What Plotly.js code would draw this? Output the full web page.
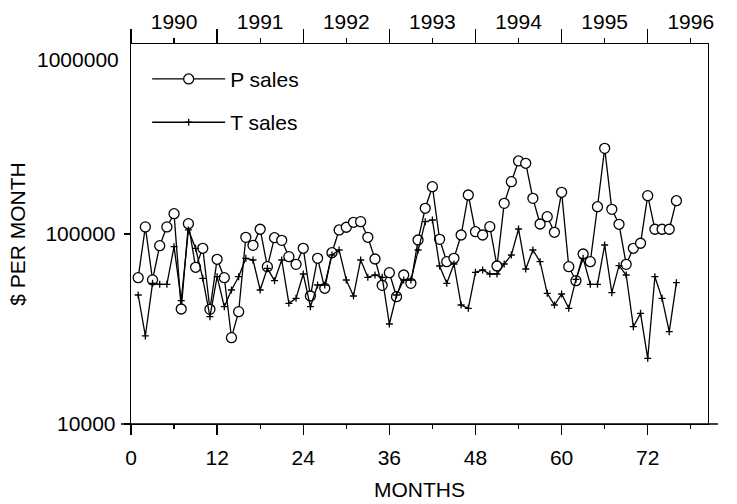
<!DOCTYPE html>
<html><head><meta charset="utf-8">
<script src="https://cdn.plot.ly/plotly-3.0.1.min.js"></script>
<style>html,body{margin:0;padding:0;background:#fff;}#chart{width:737px;height:504px;}</style>
</head><body><div id="chart"></div>
<script>
const months = [1,2,3,4,5,6,7,8,9,10,11,12,13,14,15,16,17,18,19,20,21,22,23,24,25,26,27,28,29,30,31,32,33,34,35,36,37,38,39,40,41,42,43,44,45,46,47,48,49,50,51,52,53,54,55,56,57,58,59,60,61,62,63,64,65,66,67,68,69,70,71,72,73,74,75,76];
const pSales = [58900,109000,57300,86800,109000,127900,40300,113300,66800,84100,40150,73600,58900,28460,39000,96070,87200,105900,67300,95600,92650,75950,69250,84100,47180,74500,51800,79700,105000,108500,115250,116100,96100,73880,53700,62560,46770,60840,55010,92990,136560,177400,93780,71500,74500,98800,160450,102800,98800,109250,67850,145050,188500,242300,235600,154100,112900,123350,102100,165800,67300,56780,78460,71500,139200,282500,134900,112500,69250,84100,89370,159100,105900,105900,105900,149700];
const tSales = [47750,29060,55010,54350,54350,85750,44570,105000,84100,58440,36700,59600,41430,50740,59600,74500,72990,50740,65990,56780,72990,43180,45870,61580,41430,53900,53900,77530,82380,57260,47180,72990,59170,60840,59170,33600,47750,57260,57260,82380,116100,118500,67850,55010,69520,42300,40640,62870,64650,61580,61580,69520,77530,106250,65440,82380,71500,48740,42300,48330,40640,57750,74500,54350,54350,87520,49100,68100,60840,32520,38240,22170,59600,45870,30610,55420];
const monthTicks = [0,12,24,36,48,60,72];
const yearLabels = ['1990','1991','1992','1993','1994','1995','1996'];
const yearMid = [6,18,30,42,54,66,78];
const yTickVals = [10000,100000];
const yTickText = ['10000','100000'];
const yTopLabel = '1000000';

const FONT = 'Liberation Sans, Arial, Helvetica, sans-serif';
const traces = [
  {x: months, y: pSales, name: 'P sales', type: 'scatter', mode: 'lines+markers', legendgroup: 'p',
   line: {color: '#000', width: 1.3},
   marker: {symbol: 'circle', size: 10, color: '#fff', line: {color: '#000', width: 1.3}}},
  {x: months, y: tSales, name: 'T sales', type: 'scatter', mode: 'lines+markers', legendgroup: 't',
   line: {color: '#000', width: 1.3},
   marker: {symbol: 'cross-thin-open', size: 5, color: '#000', line: {color: '#000', width: 1.3}}},
  {x: [], y: [], xaxis: 'x2', showlegend: false, hoverinfo: 'skip'}
];
const layout = {
  width: 737, height: 504,
  margin: {l: 131, r: 29, t: 44, b: 80},
  paper_bgcolor: '#fff', plot_bgcolor: '#fff',
  font: {family: FONT, color: '#000', size: 21},
  showlegend: true,
  legend: {x: 0.028, y: 0.961, xanchor: 'left', yanchor: 'top', bgcolor: 'rgba(0,0,0,0)',
           font: {size: 21}, itemwidth: 73, traceorder: 'grouped', tracegroupgap: 13},
  xaxis: {range: [0, 80.4], tickmode: 'array', tickvals: monthTicks, ticks: 'outside', ticklen: 10,
          tickwidth: 1.3, tickcolor: '#000', showline: true, linewidth: 1.3, linecolor: '#000',
          showgrid: false, zeroline: false, tickfont: {size: 21}, ticklabelstandoff: 4,
          minor: {tickmode: 'linear', tick0: 6, dtick: 12, ticks: 'outside', ticklen: 4, tickwidth: 1.3, tickcolor: '#000', showgrid: false},
          title: {text: 'MONTHS', font: {size: 21}, standoff: 14}},
  xaxis2: {overlaying: 'x', side: 'top', anchor: 'y', range: [0, 80.4], tickmode: 'array',
           tickvals: yearMid, ticktext: yearLabels, ticks: 'outside', ticklen: 5, tickwidth: 1.3,
           tickcolor: '#000', showline: true, linewidth: 1.3, linecolor: '#000', showgrid: false,
           zeroline: false, tickfont: {size: 21}, ticklabelstandoff: 0,
           minor: {tickmode: 'linear', tick0: 0, dtick: 12, ticks: 'outside', ticklen: 14, tickwidth: 1.3, tickcolor: '#000', showgrid: false}},
  yaxis: {type: 'log', range: [4, 6], tickmode: 'array', tickvals: yTickVals, ticktext: yTickText,
          ticks: 'outside', ticklen: 6, tickwidth: 1.3, tickcolor: '#000', showline: true, mirror: true,
          linewidth: 1.3, linecolor: '#000', showgrid: false, zeroline: false, tickfont: {size: 21},
          ticklabelstandoff: 4,
          title: {text: '$ PER MONTH', font: {size: 21}, standoff: 14}},
  annotations: [
    {text: yTopLabel, xref: 'paper', yref: 'paper', x: -0.0173, y: 0.9605, xanchor: 'right', yanchor: 'middle',
     showarrow: false, font: {size: 21, color: '#000'}}
  ],
  shapes: [
    {type: 'line', xref: 'paper', yref: 'paper', x0: -0.0173, x1: 1.0173, y0: 0, y1: 0, line: {color: '#000', width: 1.3}}
  ]
};
Plotly.newPlot('chart', traces, layout, {displayModeBar: false, staticPlot: true});
</script></body></html>
